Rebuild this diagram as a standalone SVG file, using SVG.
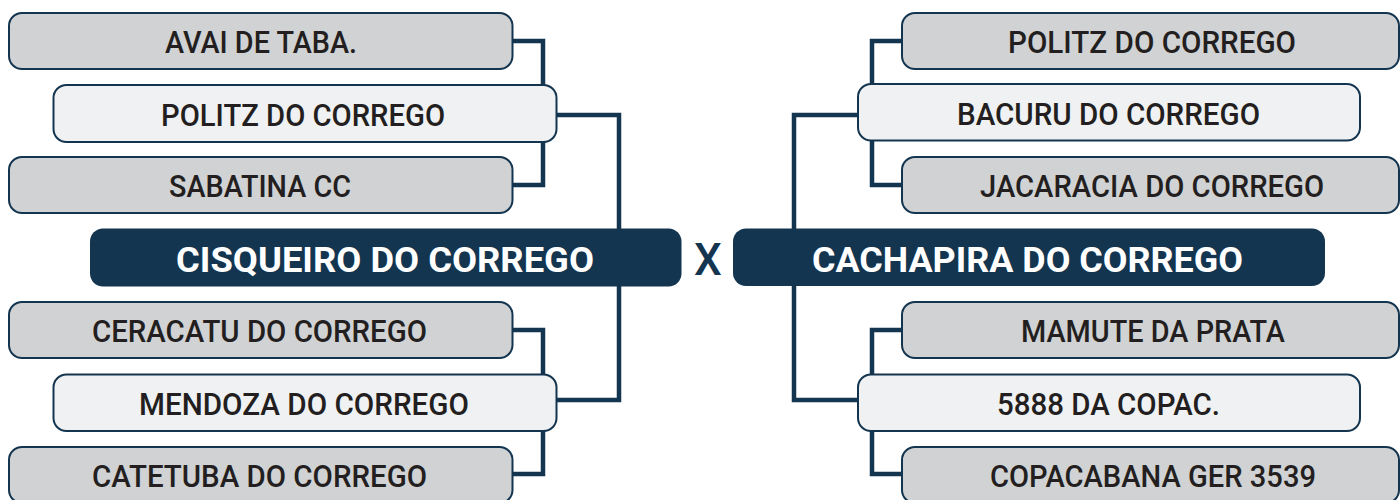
<svg xmlns="http://www.w3.org/2000/svg" width="1400" height="500" viewBox="0 0 1400 500">
<style>
.conn{fill:none;stroke:#14354f;stroke-width:4.5;stroke-linejoin:miter}
.grey{fill:#d1d2d4;stroke:#14354f;stroke-width:2}
.light{fill:#f0f1f3;stroke:#14354f;stroke-width:2}
.dark{fill:#14354f;stroke:none}
.t{font-family:Roboto,"Liberation Sans",sans-serif;font-weight:500;font-size:32px;fill:#231f20}
.tw{font-family:Roboto,"Liberation Sans",sans-serif;font-weight:700;font-size:35px;fill:#ffffff}
.x{font-family:Roboto,"Liberation Sans",sans-serif;font-weight:500;font-size:44px;fill:#14354f}
</style>
<rect width="1400" height="500" fill="#ffffff"/>
<g id="connectors">
<path class="conn" d="M512,41 H543 V185 H512"/>
<path class="conn" d="M557,115 H619 V400 H557"/>
<path class="conn" d="M512,330 H543 V474 H512"/>
<path class="conn" d="M902,41 H872 V185 H902"/>
<path class="conn" d="M858,115 H794 V400 H858"/>
<path class="conn" d="M902,330 H872 V474 H902"/>
</g>
<g id="avai"><rect class="grey" x="9" y="13" width="503.5" height="56" rx="13"/><text class="t" x="165" y="53" textLength="192" lengthAdjust="spacingAndGlyphs">AVAI DE TABA.</text></g>
<g id="politz-left"><rect class="light" x="53.5" y="85" width="503" height="57" rx="13"/><text class="t" x="161" y="126" textLength="284" lengthAdjust="spacingAndGlyphs">POLITZ DO CORREGO</text></g>
<g id="sabatina"><rect class="grey" x="9" y="157" width="503.5" height="56" rx="13"/><text class="t" x="169" y="197" textLength="182" lengthAdjust="spacingAndGlyphs">SABATINA CC</text></g>
<g id="cisqueiro"><rect class="dark" x="90" y="228.5" width="591.5" height="58" rx="13"/><text class="tw" x="176" y="272" textLength="418" lengthAdjust="spacingAndGlyphs">CISQUEIRO DO CORREGO</text></g>
<g id="ceracatu"><rect class="grey" x="9" y="302" width="503.5" height="56" rx="13"/><text class="t" x="92" y="342" textLength="335" lengthAdjust="spacingAndGlyphs">CERACATU DO CORREGO</text></g>
<g id="mendoza"><rect class="light" x="53.5" y="374.5" width="503" height="56.5" rx="13"/><text class="t" x="139" y="415" textLength="330" lengthAdjust="spacingAndGlyphs">MENDOZA DO CORREGO</text></g>
<g id="catetuba"><rect class="grey" x="9" y="447" width="503.5" height="56" rx="13"/><text class="t" x="92" y="487" textLength="335" lengthAdjust="spacingAndGlyphs">CATETUBA DO CORREGO</text></g>
<text class="x" x="708" y="275" text-anchor="middle">X</text>
<g id="politz-right"><rect class="grey" x="902" y="13" width="497" height="56" rx="13"/><text class="t" x="1008" y="53" textLength="288" lengthAdjust="spacingAndGlyphs">POLITZ DO CORREGO</text></g>
<g id="bacuru"><rect class="light" x="858" y="84" width="502" height="56.5" rx="13"/><text class="t" x="957" y="125" textLength="303" lengthAdjust="spacingAndGlyphs">BACURU DO CORREGO</text></g>
<g id="jacaracia"><rect class="grey" x="902" y="157" width="497" height="56" rx="13"/><text class="t" x="980" y="197" textLength="344" lengthAdjust="spacingAndGlyphs">JACARACIA DO CORREGO</text></g>
<g id="cachapira"><rect class="dark" x="733" y="228.5" width="592" height="57.5" rx="13"/><text class="tw" x="812" y="272" textLength="431" lengthAdjust="spacingAndGlyphs">CACHAPIRA DO CORREGO</text></g>
<g id="mamute"><rect class="grey" x="902" y="302" width="497" height="56" rx="13"/><text class="t" x="1021" y="342" textLength="264" lengthAdjust="spacingAndGlyphs">MAMUTE DA PRATA</text></g>
<g id="copac"><rect class="light" x="858" y="374.5" width="502" height="56.5" rx="13"/><text class="t" x="997" y="415" textLength="223" lengthAdjust="spacingAndGlyphs">5888 DA COPAC.</text></g>
<g id="copacabana"><rect class="grey" x="902" y="447" width="497" height="56" rx="13"/><text class="t" x="990" y="487" textLength="326" lengthAdjust="spacingAndGlyphs">COPACABANA GER 3539</text></g>
</svg>
